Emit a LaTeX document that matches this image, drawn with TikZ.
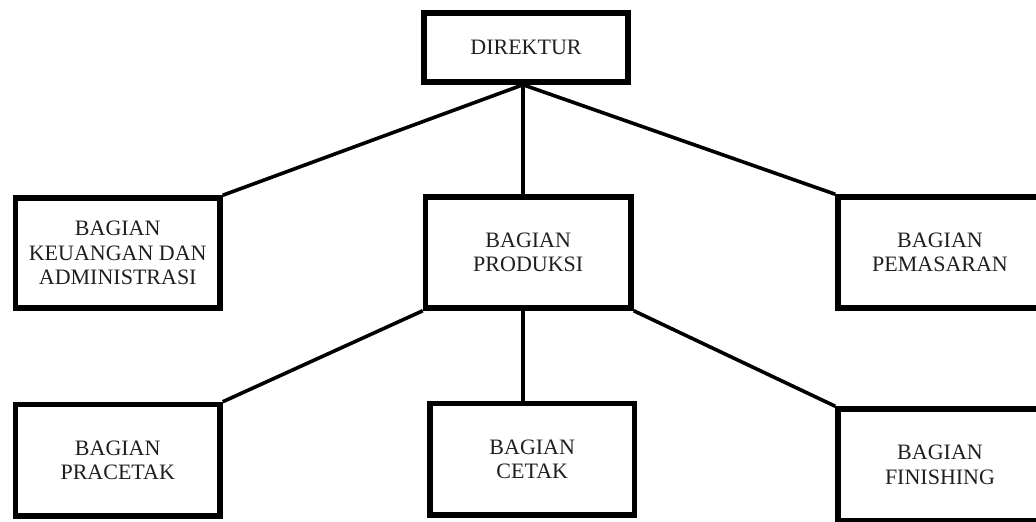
\documentclass[tikz,border=0pt]{standalone}
\usepackage{fontspec}
\setmainfont{Liberation Serif}
\begin{document}
\begin{tikzpicture}[x=1pt,y=-1pt,
  box/.style={draw=black,line width=5.5pt,rectangle,inner sep=0pt,align=center,
    font=\fontsize{22}{24.5}\selectfont,text=black!88},
  link/.style={draw=black,line width=3.6pt}]
\useasboundingbox (0,0) rectangle (1036,522);
\node[box,minimum width=204pt,minimum height=69pt] (dir) at (526,47.5) {DIREKTUR};
\node[box,minimum width=204.5pt,minimum height=110pt] (keu) at (117.75,253) {BAGIAN\\KEUANGAN DAN\\ADMINISTRASI};
\node[box,minimum width=205.5pt,minimum height=111pt] (prod) at (528.25,252.5) {BAGIAN\\PRODUKSI};
\node[box,minimum width=204pt,minimum height=111pt] (pem) at (940,252.5) {BAGIAN\\PEMASARAN};
\node[box,minimum width=204.5pt,minimum height=111.5pt] (pra) at (117.75,460.25) {BAGIAN\\PRACETAK};
\node[box,minimum width=204.5pt,minimum height=111.5pt] (cet) at (532.25,459.25) {BAGIAN\\CETAK};
\node[box,minimum width=204pt,minimum height=112pt] (fin) at (940,465) {BAGIAN\\FINISHING};
\coordinate (dj) at ([xshift=-3pt]dir.south);
\coordinate (pj) at ([xshift=-5pt]prod.south);
\draw[link] (dj) -- (keu.north east);
\draw[link] (dj) -- (dj |- prod.north);
\draw[link] (dj) -- (pem.north west);
\draw[link] (prod.south west) -- (pra.north east);
\draw[link] (pj) -- (pj |- cet.north);
\draw[link] (prod.south east) -- (fin.north west);
\end{tikzpicture}
\end{document}
